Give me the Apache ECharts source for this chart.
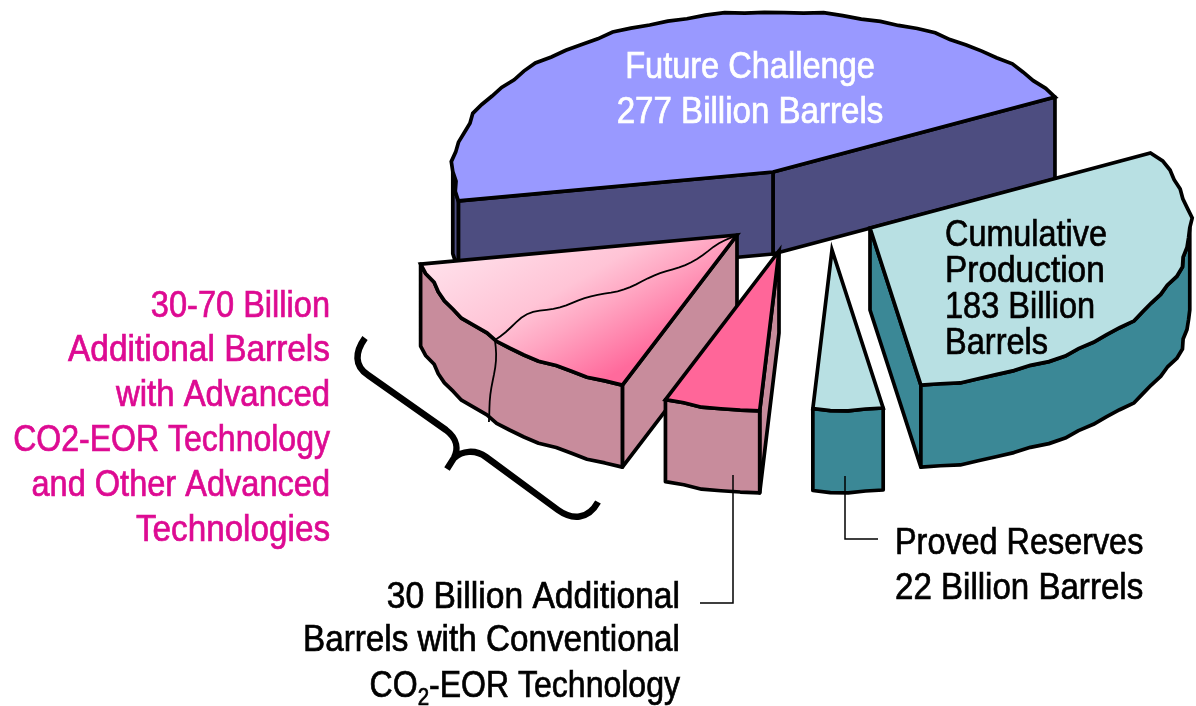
<!DOCTYPE html>
<html>
<head>
<meta charset="utf-8">
<style>html,body{margin:0;padding:0;background:#fff}#chart{width:1196px;height:706px}</style>
<script src="https://cdn.jsdelivr.net/npm/echarts@6/dist/echarts.min.js"></script>
</head>
<body>
<div id="chart"></div>
<script>
// Oil resource slices, billion barrels, in order round the pie (counter-clockwise).
const sliceNames  = ['Future Challenge', 'Advanced Technologies', 'Conventional CO2-EOR', 'Proved Reserves', 'Cumulative Production'];
const sliceValues = [277, 70, 30, 22, 183];

// Presentation of each slice, same order as above.
const sliceStretch = [0.948, 1.355, 0.94, 0.93, 0.9625]; // hand-drawn sweep exaggeration
const sliceApex    = [[773, 172], [737, 235], [779, 251], [832, 250], [870, 228]];
const topColors    = ['#9999FF', null, '#FF6699', '#B8E0E3', '#B8E0E3'];
const sideColors   = ['#4D4D80', '#C88C9C', '#C88C9C', '#3B8896', '#3B8896'];
const paintOrder   = [0, 4, 1, 2, 3];

const startAngle = 28, radiusX = 320, radiusY = 160, depth = 82;
const crackFraction = 0.52;
const total = sliceValues.reduce((a, b) => a + b, 0);

function sweepOf(i) { return sliceValues[i] / total * 360 * sliceStretch[i]; }
function startOf(i) {
  let s = startAngle;
  for (let k = 0; k < i; k++) s += sweepOf(k);
  return s;
}
// Slightly uneven rim, like a traced outline.
function rimPoint(i, deg) {
  const t = deg * Math.PI / 180;
  const w = 1 + 0.005 * Math.sin(t * 19 + i * 1.7) + 0.004 * Math.sin(t * 37 + i * 2.9);
  return [sliceApex[i][0] + radiusX * w * Math.cos(t), sliceApex[i][1] - radiusY * w * Math.sin(t)];
}
function rimPoints(i) {
  const a = startOf(i), b = a + sweepOf(i), n = Math.max(3, Math.round((b - a) / 3.5)), out = [];
  for (let k = 0; k <= n; k++) out.push({ deg: a + (b - a) * k / n, pt: rimPoint(i, a + (b - a) * k / n) });
  return out;
}
const down = p => [p[0], p[1] + depth];
const cosDeg = d => Math.cos(d * Math.PI / 180);

function renderSlice(params, api) {
  const i = api.value(0);
  const px = p => api.coord(p);
  const poly = (pts, fill, join) => ({
    type: 'polygon', shape: { points: pts.map(px) },
    style: { fill: fill, stroke: '#000', lineWidth: 3.7, lineJoin: join, miterLimit: 6 }
  });
  const rim = rimPoints(i), apex = sliceApex[i], children = [];
  const first = rim[0], last = rim[rim.length - 1];

  // Radial walls: kept only when their outward side faces the viewer.
  if (cosDeg(first.deg) > 0) children.push(poly([apex, first.pt, down(first.pt), down(apex)], sideColors[i], 'round'));
  if (cosDeg(last.deg) < 0) children.push(poly([apex, last.pt, down(last.pt), down(apex)], sideColors[i], 'round'));

  // Outer wall along the near half of the rim.
  const near = rim.filter(r => Math.sin(r.deg * Math.PI / 180) <= 0.02).map(r => r.pt);
  if (near.length > 1) {
    children.push(poly(near.concat(near.slice().reverse().map(down)), sideColors[i], 'round'));
  }
  // Top face.
  let fill = topColors[i];
  if (!fill) {
    fill = new echarts.graphic.LinearGradient(0, 0.19, 0.33, 1.38, [
      { offset: 0, color: '#FFE2EC' },
      { offset: 0.45, color: '#FFC4D6' },
      { offset: 0.62, color: '#FFA6C2' },
      { offset: 0.92, color: '#FF6A9C' }
    ]);
  }
  children.push(poly([apex].concat(rim.map(r => r.pt)), fill, 'miter'));

  // The advanced-technology slice carries a thin dividing line.
  if (i === 1) {
    const deg = startOf(i) + sweepOf(i) * crackFraction, end = rimPoint(i, deg);
    const dx = end[0] - apex[0], dy = end[1] - apex[1], len = Math.hypot(dx, dy), line = [];
    for (let k = 0; k <= 40; k++) {
      const t = k / 40;
      const bump = 8 * Math.exp(-Math.pow((t - 0.85) / 0.1, 2));
      const off = (-6 * Math.sin(2 * Math.PI * t * 0.85) + 1.6 * Math.sin(t * 23) + bump) * (1 - Math.pow(t, 8)) * Math.min(1, t * 8);
      line.push(px([apex[0] - dy / len * off + dx * t, apex[1] + dx / len * off + dy * t]));
    }
    const wall = [];
    for (let k = 0; k <= 12; k++) {
      const t = k / 12;
      wall.push(px([end[0] - 7 * t * t + 1.5 * Math.sin(t * 7), end[1] + depth * t]));
    }
    const thin = { fill: null, stroke: '#000', lineWidth: 1.8 };
    children.push({ type: 'polyline', shape: { points: line }, style: thin });
    children.push({ type: 'polyline', shape: { points: wall }, style: thin });
  }
  return { type: 'group', children: children };
}

// Curly brace gathering the advanced-technology slice and its caption.
function renderBrace() {
  return {
    type: 'path',
    shape: { pathData: 'M 365 338 C 355 352 354 366 368 375 L 446 430 C 458 439 458 450 454 458 L 447 469 M 454 458 C 462 451 475 449 486 457 L 558 510 C 572 520 588 520 598 502' },
    style: { fill: null, stroke: '#000', lineWidth: 6.5 }
  };
}

const font = '"Liberation Sans", Arial, sans-serif';
const textSize = 36, weight = 0.7;
function label(text, x, y, align, color, squeeze) {
  const ink = { fill: color, stroke: color, lineWidth: weight };
  return {
    type: 'text', x: x, y: y, z: 10, silent: true, scaleX: squeeze * 35 / textSize,
    style: Object.assign({
      text: text, font: textSize + 'px ' + font,
      align: align, verticalAlign: 'middle',
      rich: {
        sub: Object.assign({ font: '23px ' + font, verticalAlign: 'bottom', padding: [24, 0, 0, 0] }, ink),
        b: Object.assign({ font: textSize + 'px ' + font }, ink)
      }
    }, ink)
  };
}
function lines(list, x, ys, align, color, squeezes) {
  return list.map((t, k) => label(t, x, ys[k], align, color, squeezes[k]));
}
function leader(points) {
  return { type: 'polyline', z: 10, silent: true, shape: { points: points }, style: { fill: null, stroke: '#000', lineWidth: 1.5 } };
}
const pink = '#DD0A92';

const chart = echarts.init(document.getElementById('chart'), null, { renderer: 'canvas' });
chart.setOption({
  animation: false,
  backgroundColor: '#fff',
  grid: { left: 0, right: 0, top: 0, bottom: 0 },
  xAxis: { type: 'value', min: 0, max: 1196, show: false },
  yAxis: { type: 'value', min: 0, max: 706, inverse: true, show: false },
  series: [{
    type: 'custom',
    coordinateSystem: 'cartesian2d',
    renderItem: renderSlice,
    clip: false,
    silent: true,
    encode: { x: 0, y: 1 },
    data: paintOrder.map(i => [i, sliceValues[i], sliceNames[i]])
  }, {
    type: 'custom',
    coordinateSystem: 'cartesian2d',
    renderItem: renderBrace,
    clip: false,
    silent: true,
    data: [[0, 0]]
  }],
  graphic: [].concat(
    lines(['Future Challenge', '277 Billion Barrels'], 750, [68, 113], 'center', '#fff', [0.93, 0.945]),
    lines(['Cumulative', 'Production', '183 Billion', 'Barrels'], 945, [236, 272, 308, 344], 'left', '#000', [0.925, 0.955, 0.93, 0.93]),
    lines(['Proved Reserves', '22 Billion Barrels'], 895, [544, 589], 'left', '#000', [0.925, 0.945]),
    lines(['30-70 Billion', 'Additional Barrels', 'with Advanced', 'CO2-EOR Technology', 'and Other Advanced', 'Technologies'],
      330, [307, 351, 396, 441, 486, 531], 'right', pink, [0.93, 0.955, 0.94, 0.915, 0.93, 0.95]),
    lines(['30 Billion Additional', 'Barrels with Conventional', 'CO{sub|2}{b|-EOR Technology}'], 680, [598, 641, 687], 'right', '#000', [0.96, 0.95, 0.915]),
    [leader([[733, 475], [733, 603], [700, 603]]), leader([[845, 476], [845, 539], [878, 539]])]
  )
});
</script>
</body>
</html>
